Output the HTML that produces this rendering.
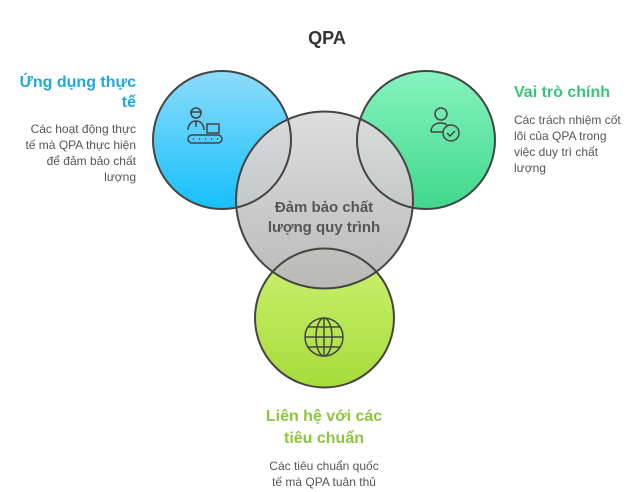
<!DOCTYPE html>
<html><head><meta charset="utf-8"><style>
html,body{margin:0;padding:0;background:#fff;width:640px;height:492px;overflow:hidden}
svg text{font-family:"Liberation Sans",sans-serif}
</style></head><body>
<svg width="640" height="492" viewBox="0 0 640 492" xmlns="http://www.w3.org/2000/svg">
<defs>
<linearGradient id="gb" x1="0" y1="0" x2="0" y2="1"><stop offset="0" stop-color="#8ddcfb"/><stop offset="1" stop-color="#15c0fa"/></linearGradient>
<linearGradient id="gg" x1="0" y1="0" x2="0" y2="1"><stop offset="0" stop-color="#86f3c0"/><stop offset="1" stop-color="#40d88b"/></linearGradient>
<linearGradient id="gl" x1="0" y1="0" x2="0" y2="1"><stop offset="0" stop-color="#cdf272"/><stop offset="1" stop-color="#a6dc3a"/></linearGradient>
<linearGradient id="gc" x1="0" y1="0" x2="0" y2="1"><stop offset="0" stop-color="#dcdcdc"/><stop offset="1" stop-color="#b8b8b8"/></linearGradient>
</defs>
<text x="327" y="44" text-anchor="middle" font-size="18" font-weight="bold" fill="#333">QPA</text>
<circle cx="222" cy="140" r="69" fill="url(#gb)"/>
<circle cx="426" cy="140" r="69" fill="url(#gg)"/>
<circle cx="324.5" cy="318" r="69.5" fill="url(#gl)"/>
<circle cx="324.5" cy="200" r="88.5" fill="url(#gc)" opacity="0.97"/>
<g fill="none" stroke="#444" stroke-width="2">
<circle cx="222" cy="140" r="69"/>
<circle cx="426" cy="140" r="69"/>
<circle cx="324.5" cy="318" r="69.5"/>
<circle cx="324.5" cy="200" r="88.5"/>
</g>
<!-- icons -->
<g fill="none" stroke="#444" stroke-width="1.5">
<circle cx="196" cy="113" r="5"/><path d="M190 112h12"/>
<path d="M188 130c0-6 4-9 8-9s8 3 8 9M196 121v6"/>
<rect x="207" y="124" width="12" height="9"/>
<rect x="188" y="135" width="34" height="8" rx="4"/>
<path d="M193 139h1M199 139h1M205 139h1M211 139h1M217 139h1"/>
<circle cx="441" cy="114" r="6"/>
<path d="M431 132c0-6 4-9 10-9 3 0 5 1 6 2M431 132h12"/>
<circle cx="451" cy="133" r="8"/><path d="M447 133l3 3 5-5"/>
<circle cx="324" cy="337" r="19"/>
<ellipse cx="324" cy="337" rx="8" ry="19"/>
<path d="M305 337h38M308 327h32M308 347h32M324 318v38"/>
</g>
<text x="324" y="212" text-anchor="middle" font-size="15" font-weight="bold" fill="#555">Đảm bảo chất</text>
<text x="324" y="232" text-anchor="middle" font-size="15" font-weight="bold" fill="#555">lượng quy trình</text>
<g font-size="16" font-weight="bold" fill="#1ea9dc" text-anchor="end">
<text x="136" y="87">Ứng dụng thực</text><text x="136" y="107">tế</text></g>
<g font-size="12" fill="#555" text-anchor="end">
<text x="136" y="133">Các hoạt động thực</text><text x="136" y="149">tế mà QPA thực hiện</text>
<text x="136" y="165">để đảm bảo chất</text><text x="136" y="181">lượng</text></g>
<text x="514" y="97" font-size="16" font-weight="bold" fill="#3bc37c">Vai trò chính</text>
<g font-size="12" fill="#555">
<text x="514" y="124">Các trách nhiệm cốt</text><text x="514" y="140">lõi của QPA trong</text>
<text x="514" y="156">việc duy trì chất</text><text x="514" y="172">lượng</text></g>
<g font-size="16" font-weight="bold" fill="#8cc63f" text-anchor="middle">
<text x="324" y="421">Liên hệ với các</text><text x="324" y="443">tiêu chuẩn</text></g>
<g font-size="12" fill="#555" text-anchor="middle">
<text x="324" y="470">Các tiêu chuẩn quốc</text><text x="324" y="486">tế mà QPA tuân thủ</text></g>
</svg>
</body></html>
